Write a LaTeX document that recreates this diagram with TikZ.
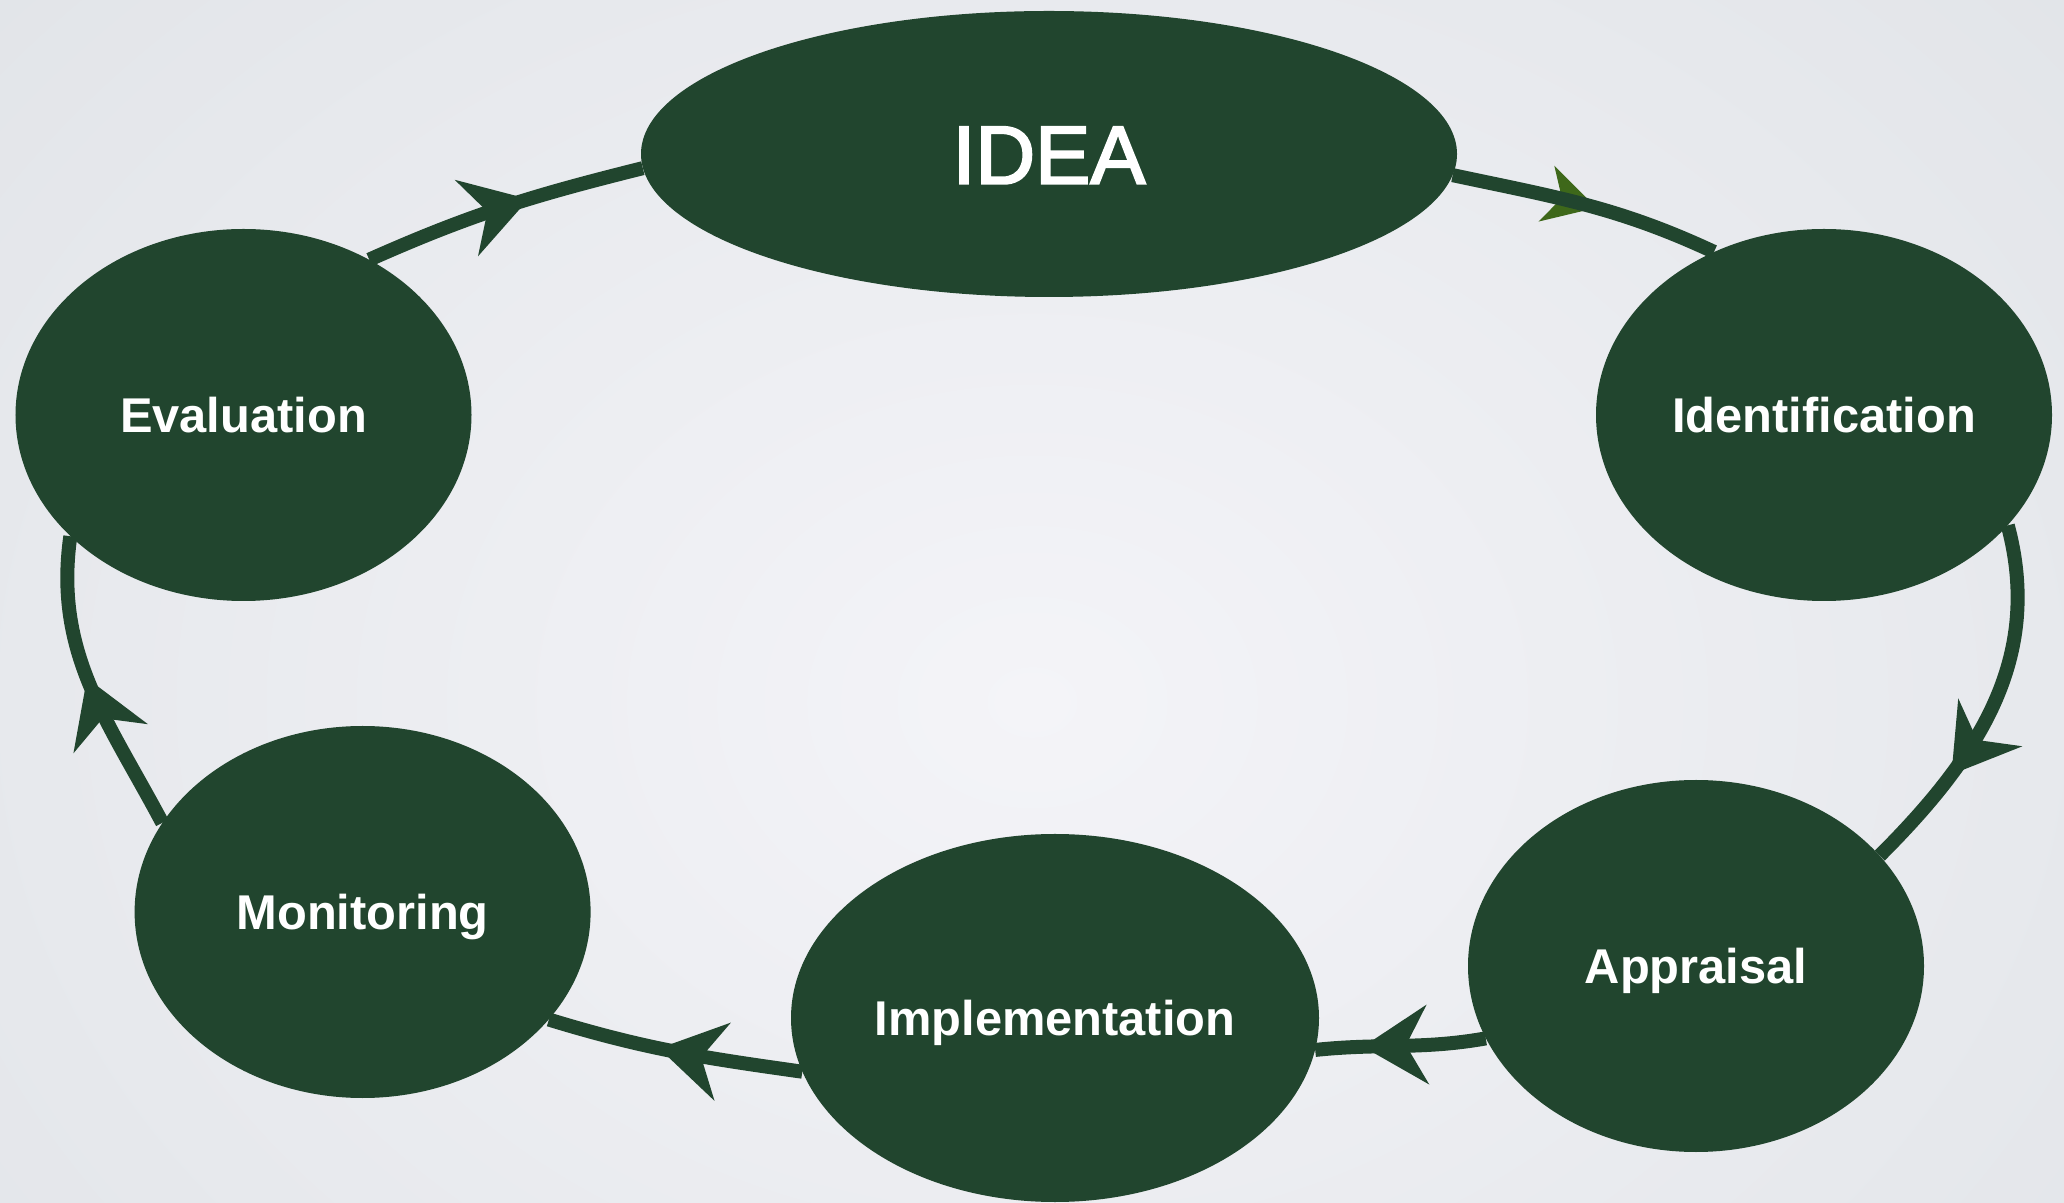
\documentclass[tikz,border=0pt]{standalone}
\usepackage{fontspec}
\setmainfont{Liberation Sans}
\newfontfamily\ideafont[FakeBold=2.5]{Liberation Sans}
\usetikzlibrary{shapes.geometric,arrows.meta,decorations.markings}
\definecolor{nodegreen}{HTML}{21452E}
\definecolor{arrowgreen}{HTML}{3E681A}
\definecolor{bgin}{HTML}{F4F4F8}
\definecolor{bgout}{HTML}{E0E3E7}
\tikzset{
  stage/.style={ellipse, fill=nodegreen, inner sep=0pt, minimum width=456bp, minimum height=372bp,
    text=white, font=\bfseries\fontsize{49}{58}\selectfont, text height=35bp, text depth=0pt},
  bigstage/.style={ellipse, fill=nodegreen, inner sep=0pt, minimum width=816bp, minimum height=286bp,
    text=white, font=\ideafont\fontsize{83}{96}\selectfont, text height=59.4bp, text depth=0pt},
  link/.style={draw=nodegreen, line width=14bp},
  midarrow/.style={postaction={decorate,decoration={markings,
    mark=at position #1 with {\arrow{Stealth[length=65bp,width=80bp,inset=22bp,line width=0pt,color=nodegreen]}}}}},
  midarrowunder/.style={preaction={decorate,decoration={markings,
    mark=at position #1 with {\arrow{Stealth[length=52bp,width=58bp,inset=16bp,line width=0pt,color=arrowgreen]}}}}},
}
\begin{document}
\begin{tikzpicture}[x=1bp,y=1bp]
  \useasboundingbox (0,0) rectangle (2064,1202);
  \clip (0,0) rectangle (2064,1202);
  \fill[bgout] (0,0) rectangle (2064,1202);
  \shade[inner color=bgin, outer color=bgout] (-500,-700) rectangle (2564,1700);

  \node[bigstage] (idea) at (1049,1048) {IDEA};
  \node[stage] (ev) at (243.5,787) {Evaluation};
  \node[stage] (id) at (1824,787) {Identification};
  \node[stage] (ap) at (1696,236) {Appraisal};
  \node[stage, minimum width=528bp, minimum height=368bp] (im) at (1055,184) {Implementation};
  \node[stage] (mo) at (362.6,290) {Monitoring};

  \draw[link, midarrow=0.59] (ev.51) to[out=24,in=194] (idea.182);
  \draw[link, midarrowunder=0.54] (idea.357.6) to[out=-12,in=155] (id.124.8);
  \draw[link, midarrow=0.71] (id.-31.3) to[out=-75,in=45] (ap.31);
  \draw[link, midarrow=0.72] (ap.199.3) to[out=190,in=6] (im.-7.7);
  \draw[link, midarrow=0.56] (im.192.1) to[out=172,in=-17] (mo.-30.4);
  \draw[link, midarrow=0.53] (mo.156.3) to[out=118,in=262] (ev.215.2);
\end{tikzpicture}
\end{document}
